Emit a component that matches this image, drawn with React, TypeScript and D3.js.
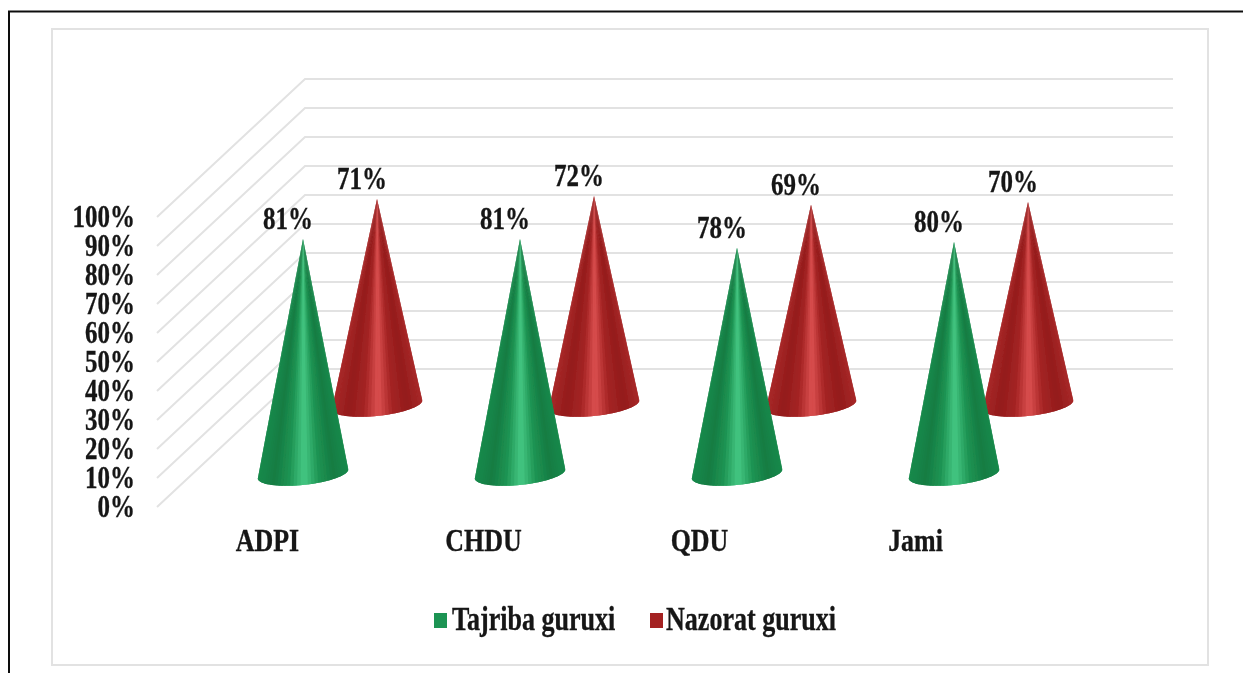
import * as d3 from "d3";
import React from "react";

const categories = ["ADPI", "CHDU", "QDU", "Jami"];
const tajriba = [0.81, 0.81, 0.78, 0.8];
const nazorat = [0.71, 0.72, 0.69, 0.7];
const ticks = d3.range(0, 11).map((i) => i / 10);

const seriesNames = ["Tajriba guruxi", "Nazorat guruxi"];
const greenRamp = ["#188a4c", "#157c43", "#1e9453", "#46c884", "#1e9453", "#157c43", "#188a4c"];
const redRamp = ["#a82828", "#941c1c", "#a42424", "#dc5050", "#a42424", "#941c1c", "#a82828"];

// floor + wall box: front plane at left, back plane is shifted by the depth vector
const DEPTH_X = 148;
const DEPTH_Y = 138;
const x = d3.scaleBand().domain(categories).range([159, 1027]);
const xLabel = d3.scalePoint().domain(categories).range([267.5, 915.5]);
const y = d3.scaleLinear().domain([0, 1]).range([507, 217]);
const tickFormat = d3.format(".0%");

const project = (cat: string, depth: number) => ({
  cx: x(cat)! + x.bandwidth() / 2 + DEPTH_X * depth,
  cy: y(0) - DEPTH_Y * depth,
});

const RX = 45.5;
const RY = 11;
const TILT = (-6 * Math.PI) / 180;
const SLICES = 40;

const Label = ({ px, py, size = 32, sx = 0.78, anchor = "middle", children }: any) => (
  <text
    transform={`translate(${px},${py}) scale(${sx},1)`}
    textAnchor={anchor}
    fontFamily="'Liberation Serif', serif"
    fontWeight="bold"
    fontSize={size}
    fill="#141414"
    stroke="#141414"
    strokeWidth={0.35}
  >
    {children}
  </text>
);

// cone drawn as thin wedges from the apex so the shading converges at the tip
const Cone = ({ cat, value, depth, ramp }: any) => {
  const { cx, cy } = project(cat, depth);
  const apexY = cy - (y(0) - y(value));
  const color = d3
    .scaleLinear<string>()
    .domain(ramp.map((_: string, i: number) => i / (ramp.length - 1)))
    .range(ramp);
  const rim = (theta: number): [number, number] => {
    const lx = RX * Math.cos(theta);
    const ly = RY * Math.sin(theta);
    return [
      cx + lx * Math.cos(TILT) - ly * Math.sin(TILT),
      cy + lx * Math.sin(TILT) + ly * Math.cos(TILT),
    ];
  };
  const line = d3.line();
  return (
    <g>
      {d3.range(SLICES).map((i) => {
        const a = (Math.PI * i) / SLICES;
        const b = (Math.PI * (i + 1)) / SLICES;
        // each wedge runs under the next one so no seams show
        const end = Math.min(Math.PI, b + Math.PI / SLICES);
        const shade = color((1 + Math.cos((a + b) / 2)) / 2);
        return <path key={i} d={line([[cx, apexY], rim(a), rim(b), rim(end)]) + "Z"} fill={shade} />;
      })}
    </g>
  );
};

const GREEN_DEPTH = 0.24;
const RED_DEPTH = 0.74;

export default function App() {
  return (
    <svg
      width={1243}
      height={673}
      style={{ position: "absolute", left: 0, top: 0, background: "#fff" }}
    >
      <defs>
        <filter id="soft" x="0" y="0" width="100%" height="100%">
          <feGaussianBlur stdDeviation={0.7} />
        </filter>
      </defs>
      <g filter="url(#soft)">
        <rect x={0} y={0} width={1243} height={673} fill="#fff" />
        <path d="M9,673V11.5H1243" fill="none" stroke="#111" strokeWidth={2} />
        <rect x={52} y={29} width={1156} height={636} fill="none" stroke="#e2e2e2" strokeWidth={2} />

        {ticks.map((t) => (
          <g key={t}>
            <path
              d={`M${x.range()[0] - 2},${y(t)}L${x.range()[0] - 2 + DEPTH_X},${y(t) - DEPTH_Y}H${x.range()[1] - 2 + DEPTH_X}`}
              fill="none"
              stroke="#e2e2e2"
              strokeWidth={2}
            />
            <Label px={135} py={y(t) + 9.5} anchor="end" sx={0.78}>
              {tickFormat(t)}
            </Label>
          </g>
        ))}

        {categories.map((c, i) => (
          <Cone key={c} cat={c} value={nazorat[i]} depth={RED_DEPTH} ramp={redRamp} />
        ))}
        {categories.map((c, i) => (
          <Cone key={c} cat={c} value={tajriba[i]} depth={GREEN_DEPTH} ramp={greenRamp} />
        ))}

        {categories.map((c, i) => {
          const g = project(c, GREEN_DEPTH);
          const r = project(c, RED_DEPTH);
          return (
            <g key={c}>
              <Label px={g.cx - 15} py={g.cy - (y(0) - y(tajriba[i])) - 10}>
                {tickFormat(tajriba[i])}
              </Label>
              <Label px={r.cx - 15} py={r.cy - (y(0) - y(nazorat[i])) - 10}>
                {tickFormat(nazorat[i])}
              </Label>
              <Label px={xLabel(c)!} py={551} sx={0.81}>
                {c}
              </Label>
            </g>
          );
        })}

        <rect x={434} y={613} width={13} height={15} fill={greenRamp[2]} />
        <Label px={452} py={630} anchor="start" size={33} sx={0.79}>
          {seriesNames[0]}
        </Label>
        <rect x={650} y={613} width={13} height={15} fill={redRamp[2]} />
        <Label px={666} py={630} anchor="start" size={33} sx={0.79}>
          {seriesNames[1]}
        </Label>
      </g>
    </svg>
  );
}
